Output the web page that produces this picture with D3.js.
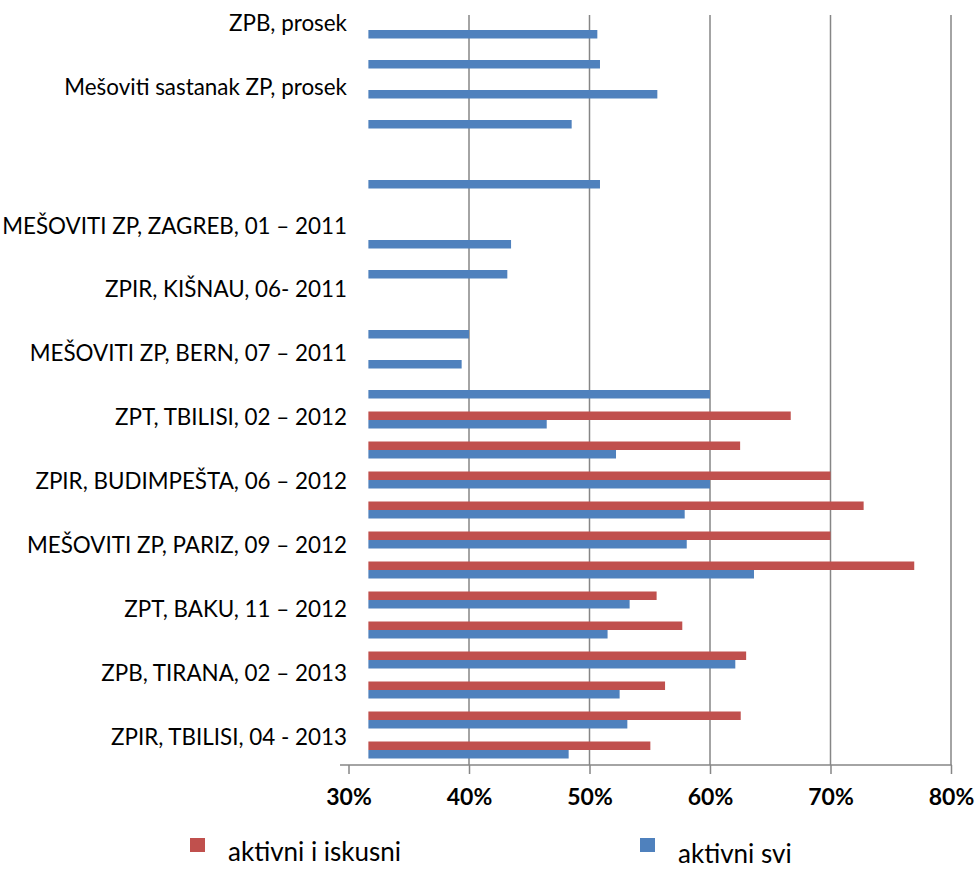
<!DOCTYPE html>
<html>
<head>
<meta charset="utf-8">
<script src="https://cdnjs.cloudflare.com/ajax/libs/d3/7.8.5/d3.min.js"></script>
<style>
  body { margin: 0; background: #fff; }
  svg text { font-family: Lato, "Open Sans", sans-serif; fill: #000; }
</style>
</head>
<body>
<div id="chart"></div>
<script>
// rows from top to bottom (25 slots, some empty)
var rows = d3.range(25);

// aktivni i iskusni (%), null = no bar
var iskusni = [null, null, null, null, null, null, null, null, null, null, null, null, null,
  66.7, 62.5, 70.0, 72.75, 70.0, 76.95, 55.57, 57.7, 63.0, 56.27, 62.55, 55.05];

// aktivni svi (%)
var svi = [50.65, 50.87, 55.63, 48.52, null, 50.87, null, 43.49, 43.18, null, 40.0, 39.39, 60.0,
  46.45, 52.2, 60.0, 57.9, 58.07, 63.65, 53.33, 51.5, 62.1, 52.5, 53.14, 48.27];

// category labels, top to bottom (every other category is shown)
var labels = [
  "ZPB, prosek\n",
  "Mešoviti sastanak ZP, prosek\n",
  "",
  "MEŠOVITI ZP, ZAGREB, 01 – 2011",
  "ZPIR, KIŠNAU, 06- 2011",
  "MEŠOVITI ZP, BERN, 07 – 2011",
  "ZPT, TBILISI, 02 – 2012",
  "ZPIR, BUDIMPEŠTA, 06 – 2012",
  "MEŠOVITI ZP, PARIZ, 09 – 2012",
  "ZPT, BAKU, 11 – 2012",
  "ZPB, TIRANA, 02 – 2013",
  "ZPIR, TBILISI, 04 - 2013"
];

var xTicks = [30, 40, 50, 60, 70, 80];
var seriesNames = ["aktivni i iskusni", "aktivni svi"];
var colors = ["#C0504D", "#4F81BD"];

var width = 977, height = 869;
var plotTop = 15, plotBottom = 765, plotLeft = 340;
var axisCross = 31.65;
var gridColor = "#868686";

var svg = d3.select("#chart").append("svg")
  .attr("width", width)
  .attr("height", height);

var x = d3.scaleLinear().domain([30, 80]).range([348.5, 951]);
var y = d3.scaleBand().domain(rows).range([plotTop, plotBottom]).padding(0);
var ySeries = d3.scaleBand().domain([0, 1]).range([0, y.bandwidth()]).paddingOuter(0.765);
var yLabel = d3.scalePoint().domain(d3.range(labels.length)).range([33.8, 736.7]);

// gridlines
svg.append("g")
  .selectAll("line")
  .data(xTicks.filter(function(d) { return d > 30; }))
  .enter().append("line")
  .attr("x1", function(d) { return x(d); })
  .attr("x2", function(d) { return x(d); })
  .attr("y1", plotTop)
  .attr("y2", plotBottom)
  .attr("stroke", gridColor)
  .attr("stroke-width", 1.5);

// bars
var series = [iskusni, svi];
series.forEach(function(values, s) {
  svg.append("g")
    .selectAll("rect")
    .data(rows.filter(function(i) { return values[i] != null; }))
    .enter().append("rect")
    .attr("x", x(axisCross))
    .attr("y", function(i) { return y(i) + ySeries(s); })
    .attr("width", function(i) { return x(values[i]) - x(axisCross); })
    .attr("height", ySeries.bandwidth())
    .attr("fill", colors[s]);
});

// x axis
var axis = svg.append("g")
  .attr("transform", "translate(0," + plotBottom + ")")
  .call(d3.axisBottom(x)
    .tickValues(xTicks)
    .tickSize(9)
    .tickSizeOuter(0)
    .tickPadding(15)
    .tickFormat(function(d) { return d + "%"; }));
axis.select(".domain").remove();
axis.selectAll(".tick line").attr("stroke", gridColor).attr("stroke-width", 1.5);
axis.selectAll(".tick text")
  .style("font-family", "Lato, sans-serif")
  .style("font-size", "23px")
  .style("font-weight", "bold")
  .attr("fill", "#000");
axis.append("line")
  .attr("x1", plotLeft)
  .attr("x2", x(80) + 0.75)
  .attr("stroke", gridColor)
  .attr("stroke-width", 1.5);

// category labels
var lineHeight = 22;
svg.append("g")
  .selectAll("text")
  .data(labels)
  .enter().append("text")
  .attr("text-anchor", "end")
  .style("font-size", "22.4px")
  .each(function(d, i) {
    var lines = d.split("\n");
    var t = d3.select(this);
    var y0 = yLabel(i) - (lines.length - 1) * lineHeight / 2;
    lines.forEach(function(line, k) {
      t.append("tspan")
        .attr("x", 347)
        .attr("y", y0 + k * lineHeight)
        .attr("dy", "0.36em")
        .text(line);
    });
  });

// legend
var legend = svg.append("g")
  .selectAll("g")
  .data(seriesNames)
  .enter().append("g")
  .attr("transform", function(d, i) { return "translate(" + (190 + i * 450) + ",838)"; });
legend.append("rect")
  .attr("width", 15)
  .attr("height", 14)
  .attr("fill", function(d, i) { return colors[i]; });
legend.append("text")
  .attr("x", 38)
  .attr("y", function(d, i) { return 23 + i * 2; })
  .style("font-size", "26px")
  .text(function(d) { return d; });
</script>
</body>
</html>
